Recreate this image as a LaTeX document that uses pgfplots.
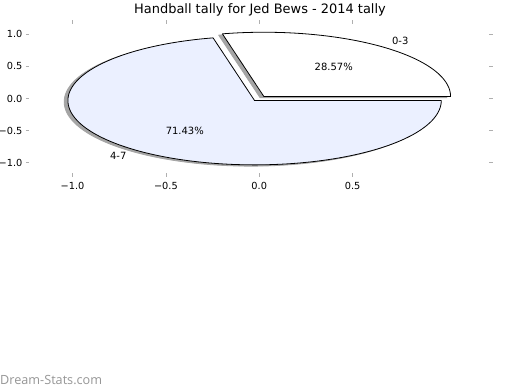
\documentclass[border=0pt]{standalone}
\usepackage{fontspec}
\setmainfont{DejaVu Sans}
\newfontfamily\wmfont{Open Sans}
\usepackage{pgfplots}
\pgfplotsset{compat=1.18}
\definecolor{wedgeblue}{RGB}{235,240,255}
\definecolor{shadowgray}{RGB}{165,165,165}
\definecolor{tickgray}{RGB}{175,175,175}
\definecolor{wmgray}{RGB}{150,150,150}

% ---- data (percent of tally) ----
\def\valA{28.57} % 0-3
\def\valB{71.43} % 4-7
\def\expl{0.04}  % explode
\pgfmathsetmacro\aA{3.6*\valA}          % end angle of first wedge
\pgfmathsetmacro\aB{\aA+3.6*\valB}      % end angle of second wedge
\pgfmathsetmacro\mA{\aA/2}
\pgfmathsetmacro\mB{\aA+1.8*\valB}
\pgfmathsetmacro\cxA{\expl*cos(\mA)}
\pgfmathsetmacro\cyA{\expl*sin(\mA)}
\pgfmathsetmacro\cxB{\expl*cos(\mB)}
\pgfmathsetmacro\cyB{\expl*sin(\mB)}
\pgfmathsetmacro\lxA{\cxA+1.1*cos(\mA)}
\pgfmathsetmacro\lyA{\cyA+1.1*sin(\mA)}
\pgfmathsetmacro\lxB{\cxB+1.1*cos(\mB)}
\pgfmathsetmacro\lyB{\cyB+1.1*sin(\mB)}
\pgfmathsetmacro\pxA{\cxA+0.6*cos(\mA)}
\pgfmathsetmacro\pyA{\cyA+0.6*sin(\mA)}
\pgfmathsetmacro\pxB{\cxB+0.6*cos(\mB)}
\pgfmathsetmacro\pyB{\cyB+0.6*sin(\mB)}

\begin{document}
\begin{tikzpicture}
\path[use as bounding box, fill=white] (0,0) rectangle (520bp,390bp);
\begin{axis}[
  at={(25.9bp,213bp)}, anchor=south west,
  scale only axis, width=466.7bp, height=156.9bp,
  xmin=-1.25, xmax=1.25, ymin=-1.22, ymax=1.22,
  axis line style={draw=none},
  tick style={tickgray, line width=0.8bp},
  major tick length=3.5bp,
  tick align=inside,
  xtick={-1,-0.5,0,0.5}, xticklabels={−1.0,−0.5,0.0,0.5},
  ytick={-1,-0.5,0,0.5,1}, yticklabels={−1.0,−0.5,0.0,0.5,1.0},
  ticklabel style={font=\fontsize{9.8}{12}\selectfont, text=black},
  xticklabel style={yshift=-1.5bp},
  yticklabel style={xshift=0bp},
  clip=false,
]
% shadows
\addplot[fill=shadowgray, draw=shadowgray, line width=0.8bp, line join=round, domain=0:\aA, samples=120, variable=\t]
  ({\cxA-0.02+cos(\t)},{\cyA-0.02+sin(\t)}) -- (\cxA-0.02,\cyA-0.02) -- cycle;
\addplot[fill=shadowgray, draw=shadowgray, line width=0.8bp, line join=round, domain=\aA:\aB, samples=200, variable=\t]
  ({\cxB-0.02+cos(\t)},{\cyB-0.02+sin(\t)}) -- (\cxB-0.02,\cyB-0.02) -- cycle;
% wedges
\addplot[fill=white, draw=black, line width=0.8bp, line join=round, domain=0:\aA, samples=120, variable=\t]
  ({\cxA+cos(\t)},{\cyA+sin(\t)}) -- (\cxA,\cyA) -- cycle;
\addplot[fill=wedgeblue, draw=black, line width=0.8bp, line join=round, domain=\aA:\aB, samples=200, variable=\t]
  ({\cxB+cos(\t)},{\cyB+sin(\t)}) -- (\cxB,\cyB) -- cycle;
% labels
\node[anchor=west, inner sep=0, font=\fontsize{10}{12}\selectfont] at (axis cs:\lxA,\lyA) {0-3};
\node[anchor=east, inner sep=0, font=\fontsize{10}{12}\selectfont] at (axis cs:\lxB,\lyB) {4-7};
\node[inner sep=0, font=\fontsize{10}{12}\selectfont] at (axis cs:\pxA,\pyA) {28.57\%};
\node[inner sep=0, font=\fontsize{10}{12}\selectfont] at (axis cs:\pxB,\pyB) {71.43\%};
\end{axis}
\node[anchor=base, inner sep=0, font=\fontsize{13}{15}\selectfont] at (260bp,376bp) {Handball tally for Jed Bews - 2014 tally};
\node[anchor=base west, inner sep=0, text=wmgray, font=\wmfont\fontsize{12.7}{14}\selectfont] at (0bp,6bp) {Dream-Stats.com};
\end{tikzpicture}
\end{document}
